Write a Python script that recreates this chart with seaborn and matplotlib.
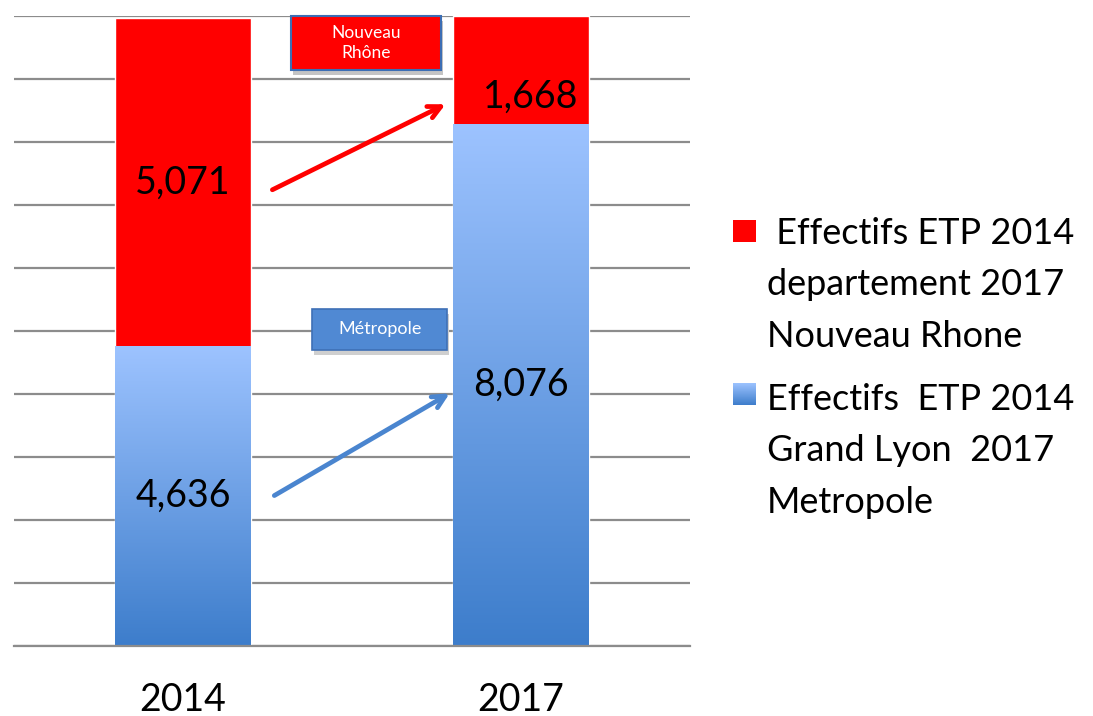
import numpy as np
import pandas as pd
import matplotlib
matplotlib.use("Agg")
import matplotlib.pyplot as plt
import seaborn as sns
from matplotlib.patches import Rectangle
from matplotlib.colors import LinearSegmentedColormap

# ---- data ----
years = ["2014", "2017"]
rhone = [5071, 1668]      # Effectifs ETP 2014 departement 2017 Nouveau Rhone
lyon = [4636, 8076]       # Effectifs ETP 2014 Grand Lyon 2017 Metropole
rhone_labels = ["5,071", "1,668"]
lyon_labels = ["4,636", "8,076"]
legend_labels = [" Effectifs ETP 2014\ndepartement 2017\nNouveau Rhone",
                 "Effectifs  ETP 2014\nGrand Lyon  2017\nMetropole"]

totals = [a + b for a, b in zip(rhone, lyon)]
df = pd.DataFrame({"year": years, "rhone": rhone, "lyon": lyon, "total": totals})

sns.set_style("white")
plt.rcParams["font.family"] = ["Lato", "DejaVu Sans"]

RED = "#FF0000"
BLUE_TOP = "#9DC3FF"
BLUE_BOT = "#3D7DCB"
ARROW_BLUE = "#4A85CF"
GRID = "#8C8C8C"

fig = plt.figure(figsize=(10.93, 7.16), dpi=100)
ax = fig.add_axes([14 / 1093, 70 / 716, 676 / 1093, 630 / 716])

sns.barplot(data=df, x="year", y="total", color=RED, saturation=1, width=0.4,
            errorbar=None, ax=ax, zorder=3)
n_red = len(ax.patches)
sns.barplot(data=df, x="year", y="lyon", color=BLUE_BOT, saturation=1, width=0.4,
            errorbar=None, ax=ax, zorder=3)
blue_patches = ax.patches[n_red:]

ymax = max(totals)

# gradient fill on blue segments
cmap = LinearSegmentedColormap.from_list("bl", [BLUE_BOT, BLUE_TOP])
grad = np.linspace(0, 1, 256).reshape(-1, 1)
for p in blue_patches:
    x0, y0 = p.get_x(), p.get_y()
    w, h = p.get_width(), p.get_height()
    im = ax.imshow(grad, cmap=cmap, aspect="auto", origin="lower",
                   extent=[x0, x0 + w, y0, y0 + h], zorder=3.5)
    im.set_clip_path(p)
    p.set_edgecolor("none")
ax.set_xlim(-0.5, 1.5)
ax.set_ylim(0, ymax)

# grid
ax.set_yticks(np.linspace(0, ymax, 11))
ax.set_yticklabels([])
ax.yaxis.grid(True, color=GRID, linewidth=1.6, zorder=0)
ax.set_axisbelow(True)
ax.tick_params(axis="y", length=0)
for s in ["left", "right", "top"]:
    ax.spines[s].set_visible(False)
ax.spines["bottom"].set_color(GRID)
ax.spines["bottom"].set_linewidth(1.6)
ax.spines["bottom"].set_zorder(4)

ax.set_xlabel("")
ax.set_ylabel("")
ax.set_xticks([0, 1])
ax.set_xticklabels(years)
ax.set_xticks([-0.5, 0.5, 1.5], minor=True)
ax.tick_params(axis="x", which="major", length=0, pad=26, labelsize=27, labelcolor="black")
ax.tick_params(axis="x", which="minor", length=10, width=1.6, color=GRID, direction="out")

# value labels
for i in range(len(years)):
    ax.text(i, lyon[i] / 2, lyon_labels[i], ha="center", va="center",
            fontsize=27, color="black", zorder=6)
    if rhone[i] < 3000:
        ypos, dx = lyon[i] + rhone[i] * 0.25, 0.03
    else:
        ypos, dx = lyon[i] + rhone[i] / 2, 0.0
    ax.text(i + dx, ypos, rhone_labels[i], ha="center", va="center",
            fontsize=27, color="black", zorder=6)

# arrows
ax.annotate("", xy=(0.784, 8398), xytext=(0.257, 7037),
            arrowprops=dict(arrowstyle="->,head_length=0.9,head_width=0.45",
                            color=RED, lw=3.4, capstyle="round"), zorder=7)
ax.annotate("", xy=(0.796, 3929), xytext=(0.263, 2305),
            arrowprops=dict(arrowstyle="->,head_length=0.9,head_width=0.45",
                            color=ARROW_BLUE, lw=3.4, capstyle="round"), zorder=7)

# callout boxes
ax.add_patch(Rectangle((0.413, 0.906), 0.222, 0.086, transform=ax.transAxes,
                       facecolor="#C4C4C4", edgecolor="none", zorder=4, clip_on=False))
ax.add_patch(Rectangle((0.410, 0.914), 0.222, 0.086, transform=ax.transAxes,
                       facecolor=RED, edgecolor="#3C6EB4", linewidth=1.5, zorder=5, clip_on=False))
ax.text(0.521, 0.957, "Nouveau\nRhône", transform=ax.transAxes, ha="center", va="center",
        fontsize=12.5, color="white", linespacing=1.35, zorder=6)

ax.add_patch(Rectangle((0.444, 0.462), 0.200, 0.065, transform=ax.transAxes,
                       facecolor="#CFCFCF", edgecolor="none", zorder=4))
ax.add_patch(Rectangle((0.441, 0.470), 0.200, 0.065, transform=ax.transAxes,
                       facecolor="#5089D3", edgecolor="#3E70B6", linewidth=1.2, zorder=5))
ax.text(0.541, 0.5025, "Métropole", transform=ax.transAxes, ha="center", va="center",
        fontsize=13, color="white", zorder=6)

# legend (drawn in figure pixel positions)
W, H = 1093, 716
def fx(px):
    return px / W
def fy(py):
    return 1 - py / H

# red square
fig.patches.append(Rectangle((fx(733), fy(242)), 23 / W, 22 / H, transform=fig.transFigure,
                             facecolor=RED, edgecolor="none", figure=fig))
# blue gradient square
lax = fig.add_axes([fx(733), fy(405), 23 / W, 22 / H])
lax.imshow(grad, cmap=cmap, aspect="auto", origin="lower", extent=[0, 1, 0, 1])
lax.set_axis_off()

fig.text(fx(767), fy(217), legend_labels[0], ha="left", va="top", fontsize=26,
         linespacing=1.68, color="black")
fig.text(fx(767), fy(383), legend_labels[1], ha="left", va="top", fontsize=26,
         linespacing=1.68, color="black")

fig.savefig("out.png", dpi=100)
